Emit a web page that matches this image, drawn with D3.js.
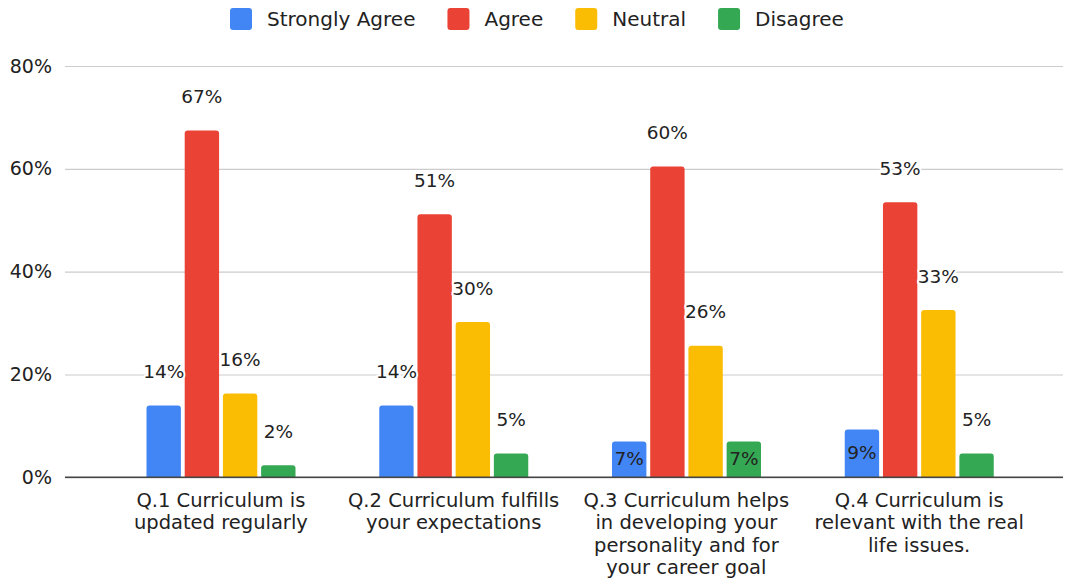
<!DOCTYPE html>
<html>
<head>
<meta charset="utf-8">
<script src="https://cdn.jsdelivr.net/npm/d3@7"></script>
<style>
  body { margin: 0; background: #fff; }
  text { font-family: "DejaVu Sans", sans-serif; fill: #222; }
</style>
</head>
<body>
<svg id="mainsvg" width="1066" height="579"></svg>
<script>
const categories = [
  'Q.1 Curriculum is\nupdated regularly',
  'Q.2 Curriculum fulfills\nyour expectations',
  'Q.3 Curriculum helps\nin developing your\npersonality and for\nyour career goal',
  'Q.4 Curriculum is\nrelevant with the real\nlife issues.'
];
const seriesNames = ['Strongly Agree', 'Agree', 'Neutral', 'Disagree'];
const seriesColors = ['#4285f4', '#ea4335', '#fbbc04', '#34a853'];
const stronglyAgree = [13.95, 13.95, 6.98, 9.30];
const agree = [67.44, 51.16, 60.47, 53.49];
const neutral = [16.28, 30.23, 25.58, 32.56];
const disagree = [2.33, 4.65, 6.98, 4.65];
const yTicks = [0, 20, 40, 60, 80];
// labels the original drew inside the bar instead of above it
const insideLabels = ['2-0', '2-3', '3-0'];

const seriesValues = [stronglyAgree, agree, neutral, disagree];

const svg = d3.select('#mainsvg');
const plotLeft = 65, plotRight = 1063;

const yScale = d3.scaleLinear().domain([0, 80]).range([477.3, 66]);
const x0 = d3.scaleBand().domain(d3.range(categories.length)).range([104.5, 1035.5]);
const x1 = d3.scaleBand().domain(d3.range(seriesNames.length)).range([42, 191]).paddingInner(0.1);

// gridlines + tick labels
const yAxis = svg.append('g').attr('transform', `translate(${plotLeft},0)`)
  .call(d3.axisLeft(yScale).tickValues(yTicks).tickFormat(d => d + '%')
    .tickSize(-(plotRight - plotLeft)).tickPadding(13));
yAxis.select('.domain').remove();
yAxis.selectAll('.tick line').attr('stroke', '#ccc').attr('stroke-width', 1.2);
yAxis.selectAll('.tick text').style('font-size', '19px').style('font-family', '"DejaVu Sans", sans-serif')
  .attr('fill', '#222');

// bars
const table = [];
categories.forEach((c, i) => seriesValues.forEach((vals, j) => table.push({ cat: i, ser: j, value: vals[i] })));

function barPath(x, y, w, h, r) {
  r = Math.min(r, h, w / 2);
  return `M${x},${y + h}V${y + r}Q${x},${y} ${x + r},${y}H${x + w - r}Q${x + w},${y} ${x + w},${y + r}V${y + h}Z`;
}

const groups = svg.append('g').selectAll('g').data(d3.range(categories.length)).join('g')
  .attr('transform', d => `translate(${x0(d)},0)`);

groups.selectAll('path').data(i => table.filter(d => d.cat === i)).join('path')
  .attr('fill', d => seriesColors[d.ser])
  .attr('d', d => barPath(x1(d.ser), yScale(d.value), x1.bandwidth(), yScale(0) - yScale(d.value), 3));

// baseline
svg.append('line')
  .attr('x1', plotLeft).attr('x2', plotRight)
  .attr('y1', yScale(0)).attr('y2', yScale(0))
  .attr('stroke', '#444').attr('stroke-width', 1.5);

// value labels
groups.selectAll('text.val').data(i => table.filter(d => d.cat === i)).join('text')
  .attr('class', 'val')
  .attr('x', d => x1(d.ser) + x1.bandwidth() / 2)
  .attr('y', d => insideLabels.includes(d.cat + '-' + d.ser)
    ? (yScale(d.value) + yScale(0)) / 2 - 1
    : yScale(d.value) - 34)
  .attr('dy', '0.36em')
  .attr('text-anchor', 'middle')
  .style('font-size', '18.5px')
  .attr('stroke', d => insideLabels.includes(d.cat + '-' + d.ser) ? 'none' : '#fff')
  .attr('stroke-width', 4)
  .attr('stroke-linejoin', 'round')
  .attr('paint-order', 'stroke')
  .text(d => Math.round(d.value) + '%');

// category labels
const catLabels = svg.append('g').selectAll('text').data(categories).join('text')
  .attr('x', (d, i) => x0(i) + x0.bandwidth() / 2)
  .attr('y', 506.5)
  .attr('text-anchor', 'middle')
  .style('font-size', '19.5px');
catLabels.selectAll('tspan').data(d => d.split('\n')).join('tspan')
  .attr('x', function () { return this.parentNode.getAttribute('x'); })
  .attr('dy', (d, i) => i === 0 ? 0 : 22.5)
  .text(d => d);

// legend
const legend = svg.append('g');
let lx = 230;
seriesNames.forEach((name, j) => {
  legend.append('rect').attr('x', lx).attr('y', 8).attr('width', 22).attr('height', 22)
    .attr('rx', 3).attr('fill', seriesColors[j]);
  const t = legend.append('text').attr('x', lx + 37).attr('y', 19).attr('dy', '0.36em')
    .style('font-size', '20px').text(name);
  lx += 37 + t.node().getComputedTextLength() + 32;
});
</script>
</body>
</html>
